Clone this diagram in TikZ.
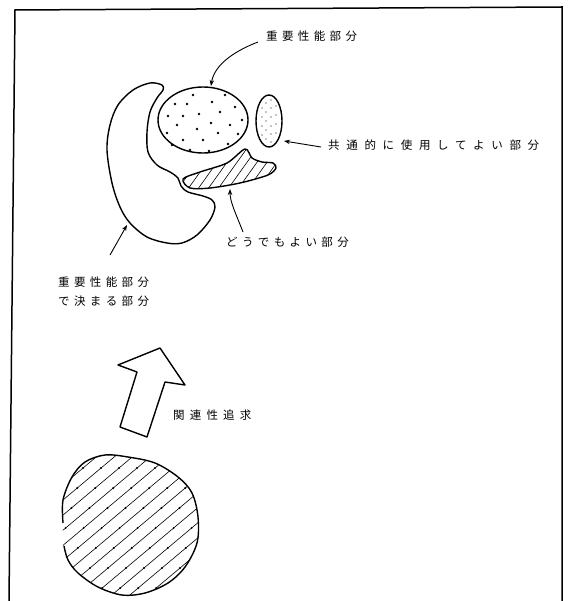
\documentclass[tikz,border=0pt]{standalone}
\usepackage{fontspec}
\newfontfamily\jp[LetterSpace=38]{Noto Sans CJK JP}
\newcommand\jplabel{\jp\fontsize{11.5}{14}\selectfont}
\usetikzlibrary{arrows.meta}
\begin{document}
\begin{tikzpicture}[x=1pt,y=-1pt,
  outline/.style={line width=1.4pt,line join=round},
  hatch/.style={line width=0.6pt},
  frameline/.style={line width=1.5pt},
  pointer/.style={line width=0.9pt,-{Stealth[length=6pt,width=4.5pt]}},
  lbl/.style={font=\jplabel,inner sep=0pt,anchor=west},
  bigdot/.style={radius=1.3pt},
  smalldot/.style={radius=0.6pt}]
\useasboundingbox (0,0) rectangle (568,601);

% frame
\draw[frameline] (9,601) -- (15,10) -- (562,7) -- (562,601);

% crescent: part decided by the important part
\draw[outline] plot[smooth cycle,tension=0.55] coordinates {
 (162,85) (150,83) (133,90) (118,105) (110,125) (107,150) (112,183)
 (120,207) (130,223) (147,237) (167,243) (182,243) (197,235) (210,220)
 (215,207) (212,200) (203,196) (188,192) (181,186) (178,178) (170,172)
 (157,165) (148,152) (147,132) (150,112) (157,98) (163,90)};

% big dotted oval (important part)
\draw[outline] (203,120) ellipse [x radius=45,y radius=33];
\foreach \p in {(193,95),(225,95),(175,104),(187,104),(212,102),(235,107),
  (220,112),(199,114),(183,116),(168,116),(242,120),(211,123),(177,125),
  (230,125),(197,129),(167,133),(218,133),(238,134),(183,140),(203,140),
  (172,145),(228,144),(190,150),(209,151)}
  \fill[bigdot] \p circle;

% small dotted oval (commonly usable part)
\draw[outline] (269,121) ellipse [x radius=13,y radius=26];
\foreach \p in {(262,108),(262,117),(262,126),(262,135),
  (266,103),(266,112),(266,121),(266,130),(266,139),
  (271,100),(271,108),(271,117),(271,126),(271,134),(271,142),
  (276,106),(276,115),(276,124),(276,133)}
  \fill[smalldot] \p circle;

% hatched part (does not matter)
\begin{scope}
  \clip plot[smooth cycle,tension=0.5] coordinates {
   (183,179) (200,172) (227,163) (245,149) (252,158) (262,162) (273,163)
   (276,168) (268,175) (240,183) (210,188) (190,188)};
  \foreach \c in {150,160,...,290}
    \draw[hatch] (\c,200) -- ++(43,-60);
\end{scope}
\draw[outline] plot[smooth cycle,tension=0.5] coordinates {
   (183,179) (200,172) (227,163) (245,149) (252,158) (262,162) (273,163)
   (276,168) (268,175) (240,183) (210,188) (190,188)};

% big hollow arrow
\draw[outline] (160,348) -- (185,385) -- (165,382) -- (147,437)
  -- (120,427) -- (137,372) -- (118,365) -- cycle;

% bottom hatched blob
\begin{scope}
  \clip plot[smooth cycle,tension=0.55] coordinates {
   (63,521) (63,500) (72,477) (85,462) (105,455) (128,457) (155,463)
   (178,477) (192,493) (198,517) (197,543) (185,567) (168,583) (145,593)
   (122,595) (98,587) (78,573) (68,560) (63,547)};
  \foreach \c in {-140,-122,...,200}{
    \draw[hatch] (\c,610) -- ++(200,-168);
    \foreach \r in {468,488,...,592}
      \fill ({\c+(610-\r)/0.84},\r) circle (1.1pt);
  }
\end{scope}
\draw[outline] plot[smooth,tension=0.55] coordinates {
   (63,523) (63,500) (72,477) (85,462) (105,455) (128,457) (155,463)
   (178,477) (192,493) (198,517) (197,543) (185,567) (168,583) (145,593)
   (122,595) (98,587) (78,573) (68,560) (64,546)};

% labels
\node[lbl] (lA) at (266,36) {重要性能部分};
\node[lbl] (lB) at (328,145) {\addfontfeature{LetterSpace=58}共通的に使用してよい部分};
\node[lbl] (lC) at (226,242) {どうでもよい部分};
\node[lbl] (lD1) at (58,282) {重要性能部分};
\node[lbl] (lD2) at (58,301) {で決まる部分};
\node[lbl] (lE) at (173,415) {\addfontfeature{LetterSpace=45}関連性追求};

% pointer ends
\coordinate (sA) at (258,42);  \coordinate (tA) at (211,86);
\coordinate (tB) at (284,141);
\coordinate (sC) at (243,232); \coordinate (tC) at (230,189);
\coordinate (sD) at (110,255); \coordinate (tD) at (127,225);

\draw[pointer] (sA) .. controls (232,52) and (214,66) .. (tA);
\draw[pointer] ([xshift=-7pt,yshift=-2pt]lB.west) -- (tB);
\draw[pointer] (sC) .. controls (236,214) and (230,202) .. (tC);
\draw[pointer] (sD) -- (tD);
\end{tikzpicture}
\end{document}
